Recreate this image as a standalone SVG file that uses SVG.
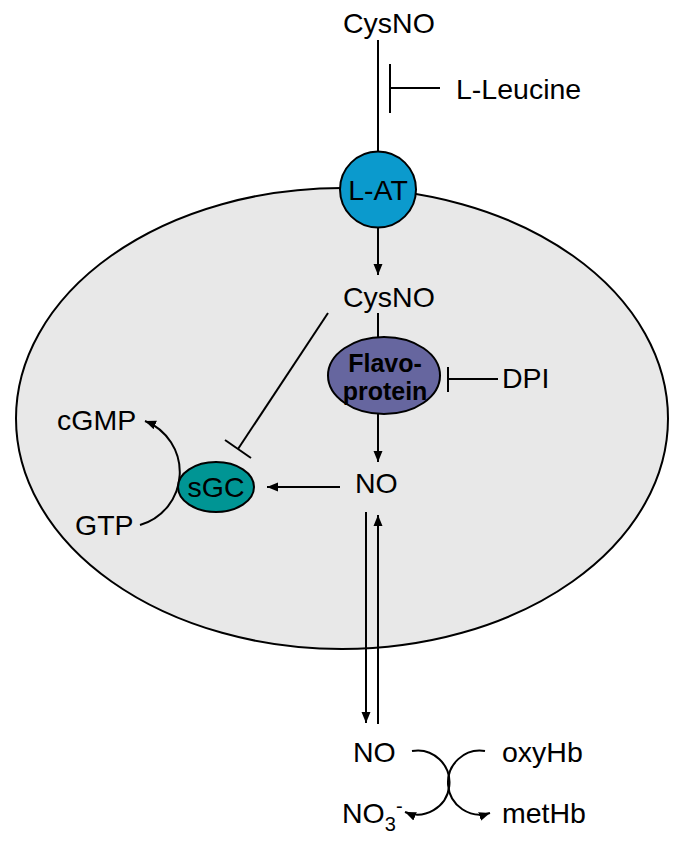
<svg xmlns="http://www.w3.org/2000/svg" width="677" height="845" viewBox="0 0 677 845">
<defs>
<marker id="ah" markerUnits="userSpaceOnUse" markerWidth="12" markerHeight="10" refX="11" refY="5" orient="auto">
<path d="M0,0.5 L11,5 L0,9.5 z" fill="#000"/>
</marker>
</defs>
<style>
text{font-family:"Liberation Sans",Arial,sans-serif;font-size:28.5px;fill:#000}
.b{font-weight:bold;font-size:25px}
.ln{fill:none;stroke:#000;stroke-width:2}
.ar{fill:none;stroke:#000;stroke-width:2;marker-end:url(#ah)}
.nd{stroke:#000;stroke-width:2}
</style>
<rect width="677" height="845" fill="#fff"/>
<g id="cell"><ellipse cx="342" cy="418.5" rx="326" ry="230.5" fill="#e8e8e8" stroke="#000" stroke-width="2"/></g>
<g id="connectors">
<line class="ln" x1="378" y1="40" x2="378" y2="152"/>
<line class="ln" x1="390" y1="64" x2="390" y2="113"/>
<line class="ln" x1="390" y1="88" x2="440" y2="88"/>
<line class="ar" x1="378" y1="228" x2="378" y2="275"/>
<line class="ln" x1="378" y1="313" x2="378" y2="337"/>
<line class="ln" x1="448" y1="367" x2="448" y2="392"/>
<line class="ln" x1="448" y1="379" x2="498" y2="379"/>
<line class="ar" x1="378" y1="414" x2="378" y2="462"/>
<line class="ln" x1="328" y1="313" x2="238" y2="449"/>
<line class="ln" x1="225" y1="440" x2="251" y2="458"/>
<line class="ar" x1="340" y1="487" x2="267" y2="487"/>
<path class="ar" d="M140,525 A55,55 0 0 0 145,421"/>
<line class="ar" x1="366" y1="512" x2="366" y2="723"/>
<line class="ar" x1="378" y1="724" x2="378" y2="515"/>
<path class="ar" d="M412,751 A32,32 0 1 1 405,812"/>
<path class="ar" d="M485,751 A32,32 0 1 0 490,813"/>
</g>
<g id="n-cysno-top"><text x="343" y="33">CysNO</text></g>
<g id="n-leucine"><text x="456" y="99">L-Leucine</text></g>
<g id="n-lat"><circle class="nd" cx="378" cy="189.5" r="38" fill="#0b9acd"/><text x="378" y="200" text-anchor="middle">L-AT</text></g>
<g id="n-cysno-in"><text x="343" y="307">CysNO</text></g>
<g id="n-flavo"><ellipse class="nd" cx="384" cy="375.5" rx="56" ry="38.5" fill="#66669f"/><text class="b" x="385" y="372" text-anchor="middle">Flavo-</text><text class="b" x="385" y="400" text-anchor="middle">protein</text></g>
<g id="n-dpi"><text x="502" y="388">DPI</text></g>
<g id="n-no-in"><text x="355" y="493">NO</text></g>
<g id="n-sgc"><ellipse class="nd" cx="216" cy="487" rx="38" ry="25" fill="#009594"/><text x="216" y="497" text-anchor="middle">sGC</text></g>
<g id="n-cgmp"><text x="57" y="430">cGMP</text></g>
<g id="n-gtp"><text x="75" y="535">GTP</text></g>
<g id="n-no-out"><text x="353" y="762">NO</text></g>
<g id="n-oxyhb"><text x="502" y="762">oxyHb</text></g>
<g id="n-no3"><text x="342" y="823">NO<tspan font-size="20" dy="8">3</tspan><tspan font-size="20" dy="-18">-</tspan></text></g>
<g id="n-methb"><text x="502" y="823">metHb</text></g>
</svg>
